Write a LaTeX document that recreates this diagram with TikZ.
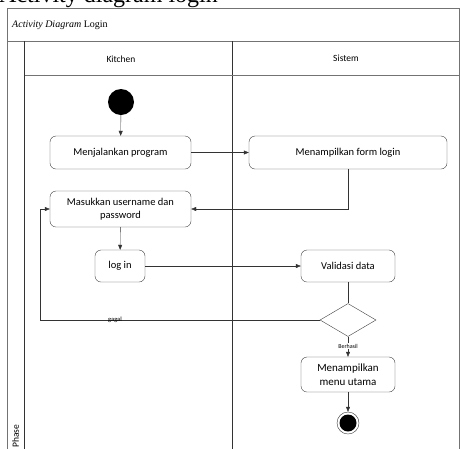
\documentclass[tikz,border=0pt]{standalone}
\usepackage{fontspec}
\setmainfont{Carlito}
\newfontfamily\tnr{Liberation Serif}
\usetikzlibrary{shapes.geometric,arrows.meta}
\begin{document}
\begin{tikzpicture}[x=1pt,y=-1pt,
  act/.style={draw=black!75,rounded corners=6pt,fill=white,align=center,font=\fontsize{10.5}{12.5}\selectfont,inner sep=0pt},
  flow/.style={draw=black!80,-{Triangle[length=5pt,width=4pt]}},
  plain/.style={draw=black!80},
  lane/.style={draw=black!80,line width=0.9pt},
  frame/.style={draw=black!55,line width=0.9pt}]
\useasboundingbox (0,0) rectangle (460,448);
\begin{scope}
\clip (0,0) rectangle (460,448);
\node[anchor=base west,font=\tnr\fontsize{24}{24}\selectfont,inner sep=0pt] (title) at (-1,2.5) {Activity diagram login};
\fill[white] (7,8) rectangle (459,460);
\draw[frame] (7,460) -- (7,8) -- (459,8) -- (459,460);
\draw[frame] (7,41) -- (459,41);
\draw[lane] (24.5,41) -- (24.5,460);
\draw[lane] (232,41) -- (232,460);
\draw[frame] (24.5,75) -- (459,75);
\node[anchor=west,font=\tnr\fontsize{10}{11}\selectfont,inner sep=0pt] (hdr) at (12,25) {\textit{Activity Diagram} Login};
\node[font=\fontsize{9.5}{11}\selectfont] (k) at (121,59) {Kitchen};
\node[font=\fontsize{9.5}{11}\selectfont] (s) at (346,58) {Sistem};
\node[rotate=90,anchor=west,font=\fontsize{9.5}{11}\selectfont,inner sep=0pt] (ph) at (15.5,448) {Phase};

\node[circle,fill=black,minimum size=26pt,inner sep=0pt] (start) at (121,102) {};
\node[act,minimum width=141pt,minimum height=33pt] (run) at (120.5,152.5) {Menjalankan program};
\node[act,minimum width=198pt,minimum height=33pt] (form) at (348,152.5) {Menampilkan form login};
\node[act,minimum width=141pt,minimum height=36pt] (input) at (120.5,209) {Masukkan username dan\\password};
\node[act,minimum width=50pt,minimum height=32pt] (login) at (120,266) {log in};
\node[act,minimum width=94pt,minimum height=32pt] (valid) at (348,266) {Validasi data};
\node[diamond,draw=black!75,fill=white,minimum width=56pt,minimum height=33pt,inner sep=0pt] (dec) at (348,320) {};
\node[act,minimum width=94pt,minimum height=35pt,font=\fontsize{11}{14}\selectfont] (menu) at (348,374.5) {Menampilkan\\menu utama};
\node[circle,draw=black!80,minimum size=22pt,inner sep=0pt] (end) at (348,423) {};
\node[circle,fill=black,minimum size=17pt,inner sep=0pt] (endin) at (348,423) {};
\coordinate (gl) at (40,320);

\draw[flow] (start) -- (run);
\draw[flow] (run) -- (form);
\draw[flow] (form.south) |- (input.east);
\draw[flow] (input) -- (login);
\draw[flow] (login) -- (valid);
\draw[plain] (valid) -- (dec);
\draw[flow] (dec.west) -- (gl) |- (input.west);
\node[font=\fontsize{6.5}{7}\selectfont,inner sep=0pt] (gagal) at (115,319.5) {gagal};
\draw[flow] (dec.south) -- (menu.north);
\node[font=\fontsize{6}{7}\selectfont,fill=white,inner sep=0.5pt] (ber) at (348,346) {Berhasil};
\draw[flow] (menu) -- (end);
\end{scope}
\end{tikzpicture}
\end{document}
